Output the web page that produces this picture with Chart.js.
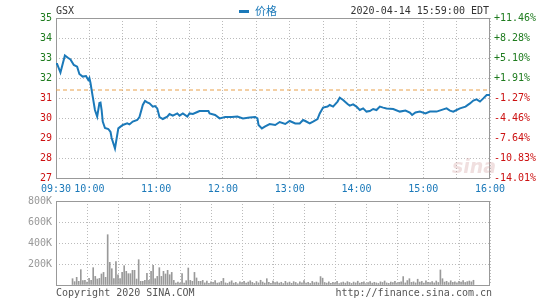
<!DOCTYPE html>
<html>
<head>
<meta charset="utf-8">
<script src="https://cdn.jsdelivr.net/npm/chart.js@4/dist/chart.umd.min.js"></script>
<style>
  html, body { margin: 0; padding: 0; background: #fff; }
  #wrap { position: relative; width: 545px; height: 300px; overflow: hidden; }
  #chartPrecio { position: absolute; left: 0; top: 0; }
  #chartVolumen { position: absolute; left: 0; top: 191px; }
</style>
</head>
<body>
<div id="wrap">
  <canvas id="chartPrecio" width="545" height="200"></canvas>
  <canvas id="chartVolumen" width="545" height="109"></canvas>
</div>
<script>
// datos (minutos desde 09:30)
const simbolo = 'GSX';
const serieNombre = '价格';
const fechaHora = '2020-04-14 15:59:00 EDT';
const cierreAnterior = 31.40;

const minutos = [0, 1, 4, 8, 11, 13, 16, 19, 21, 24, 27, 29, 30, 31, 33, 35, 37, 39, 40, 41,
  42, 44, 47, 49, 50, 53, 56, 58, 60, 64, 66, 69, 73, 75, 78, 80, 82, 84, 87, 89,
  91, 93, 96, 100, 102, 105, 109, 111, 114, 118, 120, 123, 127, 129, 134, 137, 138, 143, 147, 152,
  158, 163, 168, 174, 179, 181, 182, 185, 188, 192, 197, 201, 206, 210, 215, 219, 222, 224, 228, 231,
  235, 237, 240, 244, 246, 249, 253, 255, 258, 262, 264, 267, 270, 273, 276, 279, 282, 285, 288, 291,
  294, 297, 303, 309, 314, 318, 320, 323, 327, 332, 336, 342, 348, 351, 354, 357, 360, 363, 368, 372,
  375, 378, 381, 384, 387, 390];
const precios = [32.70, 32.70, 32.27, 33.13, 33.00, 32.93, 32.65, 32.57, 32.20, 32.07, 32.10, 31.90, 32.00, 31.75, 31.07, 30.40, 30.07, 30.75, 30.77, 30.40,
  29.82, 29.50, 29.45, 29.30, 29.00, 28.48, 29.48, 29.57, 29.65, 29.73, 29.68, 29.82, 29.90, 30.05, 30.65, 30.85, 30.78, 30.73, 30.57, 30.60,
  30.48, 30.05, 29.95, 30.07, 30.20, 30.12, 30.23, 30.12, 30.23, 30.07, 30.23, 30.20, 30.30, 30.35, 30.35, 30.35, 30.23, 30.15, 29.98, 30.05,
  30.05, 30.07, 29.98, 30.02, 30.05, 29.98, 29.65, 29.48, 29.58, 29.70, 29.65, 29.80, 29.70, 29.85, 29.73, 29.73, 29.90, 29.85, 29.73, 29.82,
  29.95, 30.23, 30.52, 30.57, 30.65, 30.57, 30.82, 31.02, 30.90, 30.70, 30.62, 30.68, 30.57, 30.40, 30.48, 30.32, 30.35, 30.45, 30.40, 30.57,
  30.52, 30.48, 30.45, 30.32, 30.37, 30.27, 30.15, 30.28, 30.32, 30.23, 30.32, 30.32, 30.43, 30.48, 30.37, 30.32, 30.40, 30.48, 30.57, 30.73,
  30.87, 30.93, 30.82, 30.98, 31.15, 31.15];

// volumen cada 2 minutos, en miles
const volumenes = [60, 32, 73, 35, 146, 41, 44, 29, 63, 44,
  165, 82, 57, 63, 105, 120, 73, 479, 216, 155,
  60, 222, 98, 60, 120, 184, 130, 108, 108, 140,
  140, 57, 241, 35, 35, 44, 111, 44, 130, 187,
  60, 82, 165, 82, 130, 105, 140, 98, 120, 44,
  19, 29, 19, 108, 19, 41, 162, 44, 35, 120,
  67, 35, 35, 44, 20, 38, 15, 30, 25, 42,
  18, 22, 35, 63, 20, 15, 28, 40, 18, 25,
  12, 30, 22, 35, 18, 28, 40, 25, 15, 33,
  20, 45, 28, 18, 60, 25, 15, 38, 22, 30,
  18, 26, 14, 35, 20, 28, 16, 32, 24, 12,
  30, 20, 42, 18, 26, 15, 34, 22, 28, 20,
  80, 65, 24, 18, 30, 16, 25, 20, 35, 14,
  22, 28, 18, 32, 24, 15, 28, 20, 36, 18,
  25, 30, 14, 22, 33, 18, 26, 20, 15, 30,
  24, 38, 20, 16, 28, 22, 35, 18, 25, 30,
  80, 20, 42, 60, 25, 30, 20, 55, 28, 34,
  18, 40, 26, 22, 32, 20, 38, 24, 143, 60,
  28, 35, 22, 40, 25, 30, 20, 36, 28, 42,
  24, 32, 38, 30, 45];

const horaMinutos = [0, 30, 90, 150, 210, 270, 330, 390];
const horaTextos = ['09:30', '10:00', '11:00', '12:00', '13:00', '14:00', '15:00', '16:00'];

const AZUL = '#1b79b9';
const VERDE = '#1e7b1e';
const ROJO = '#cc1111';
const GRIS = '#999';
const fuente = { family: '"DejaVu Sans Mono", "Noto Sans CJK SC", monospace', size: 10 };

const colorPorValor = ctx => ctx.tick.value > cierreAnterior ? VERDE : ROJO;

// marco del area del grafico
const marcoPlugin = {
  id: 'marco',
  beforeDatasetsDraw(chart) {
    const a = chart.chartArea;
    const ctx = chart.ctx;
    ctx.save();
    ctx.strokeStyle = GRIS;
    ctx.lineWidth = 1;
    ctx.strokeRect(Math.round(a.left) + 0.5, Math.round(a.top) + 0.5,
      Math.round(a.right - a.left) - 1, Math.round(a.bottom - a.top));
    ctx.restore();
  }
};

const cabeceraPlugin = {
  id: 'cabecera',
  afterDraw(chart) {
    const ctx = chart.ctx;
    ctx.save();
    ctx.font = '10px "DejaVu Sans Mono", monospace';
    ctx.textBaseline = 'middle';
    ctx.fillStyle = '#333';
    ctx.textAlign = 'left';
    ctx.fillText(simbolo, 56, 11);
    ctx.textAlign = 'right';
    ctx.fillText(fechaHora, 489, 11);
    ctx.fillStyle = AZUL;
    ctx.fillRect(239, 10, 10, 3);
    ctx.textAlign = 'left';
    ctx.font = '11px "Noto Sans CJK SC", sans-serif';
    ctx.fillText(serieNombre, 255, 11);
    // marca de agua
    ctx.font = 'italic bold 19px "DejaVu Sans", sans-serif';
    ctx.fillStyle = 'rgba(205, 150, 150, 0.3)';
    ctx.textAlign = 'center';
    ctx.fillText('sina', 474, 168);
    ctx.restore();
  }
};

const piePlugin = {
  id: 'pie',
  afterDraw(chart) {
    const ctx = chart.ctx;
    ctx.save();
    ctx.font = '10px "DejaVu Sans Mono", monospace';
    ctx.textBaseline = 'middle';
    ctx.fillStyle = '#555';
    ctx.textAlign = 'left';
    ctx.fillText('Copyright 2020 SINA.COM', 56, 102);
    ctx.textAlign = 'right';
    ctx.fillText('http://finance.sina.com.cn', 492, 102);
    ctx.restore();
  }
};

const datosPrecio = minutos.map((m, i) => ({ x: m, y: precios[i] }));
const datosCierre = [{ x: 0, y: cierreAnterior }, { x: 390, y: cierreAnterior }];
const volMinutos = volumenes.map((v, i) => 1 + 2 * i);
const datosVolumen = volumenes.map((v, i) => ({ x: volMinutos[i], y: v * 1000 }));

new Chart(document.getElementById('chartPrecio'), {
  type: 'line',
  data: {
    datasets: [
      {
        label: serieNombre,
        data: datosPrecio,
        borderColor: AZUL,
        borderWidth: 2,
        pointRadius: 0,
        tension: 0
      },
      {
        label: 'cierre',
        data: datosCierre,
        borderColor: '#e8a04a',
        borderWidth: 1,
        borderDash: [4, 3],
        pointRadius: 0
      }
    ]
  },
  options: {
    responsive: false,
    animation: false,
    devicePixelRatio: 1,
    layout: { padding: { top: 18, left: 0, right: 0, bottom: 0 } },
    plugins: { legend: { display: false }, tooltip: { enabled: false } },
    scales: {
      x: {
        type: 'linear', min: 0, max: 390,
        afterFit: s => { s.height = 22; },
        grid: { color: '#bbb', drawTicks: false },
        border: { display: false, dash: [1, 2] },
        ticks: {
          stepSize: 30, autoSkip: false, maxRotation: 0, padding: 5,
          color: AZUL, font: fuente,
          callback: v => {
            const k = horaMinutos.indexOf(v);
            return k >= 0 ? horaTextos[k] : '';
          }
        }
      },
      y: {
        position: 'left', min: 27, max: 35,
        afterFit: s => { s.width = 56; },
        grid: { color: '#bbb', drawTicks: false },
        border: { display: false, dash: [1, 2] },
        ticks: { stepSize: 1, padding: 4, color: colorPorValor, font: fuente }
      },
      y1: {
        position: 'right', min: 27, max: 35,
        afterFit: s => { s.width = 55; },
        grid: { drawOnChartArea: false, drawTicks: false },
        border: { display: false },
        ticks: {
          stepSize: 1, padding: 4, color: colorPorValor, font: fuente,
          callback: v => {
            const p = (v / cierreAnterior - 1) * 100;
            return (p > 0 ? '+' : '') + p.toFixed(2) + '%';
          }
        }
      }
    }
  },
  plugins: [marcoPlugin, cabeceraPlugin]
});

new Chart(document.getElementById('chartVolumen'), {
  type: 'bar',
  data: {
    datasets: [{
      label: 'volumen',
      data: datosVolumen,
      backgroundColor: GRIS,
      barThickness: 1
    }]
  },
  options: {
    responsive: false,
    animation: false,
    devicePixelRatio: 1,
    layout: { padding: { top: 2, left: 0, right: 55, bottom: 0 } },
    plugins: { legend: { display: false }, tooltip: { enabled: false } },
    scales: {
      x: {
        type: 'linear', min: 0, max: 390,
        afterFit: s => { s.height = 15; },
        grid: { color: '#bbb', drawTicks: false },
        border: { display: false, dash: [1, 2] },
        ticks: { stepSize: 30, autoSkip: false, display: false }
      },
      y: {
        min: 0, max: 800000,
        afterFit: s => { s.width = 56; },
        grid: { color: '#bbb', drawTicks: false },
        border: { display: false, dash: [1, 2] },
        ticks: {
          stepSize: 200000, padding: 4, color: GRIS, font: fuente,
          callback: v => v === 0 ? '' : (v / 1000) + 'K'
        }
      }
    }
  },
  plugins: [marcoPlugin, piePlugin]
});
</script>
</body>
</html>
